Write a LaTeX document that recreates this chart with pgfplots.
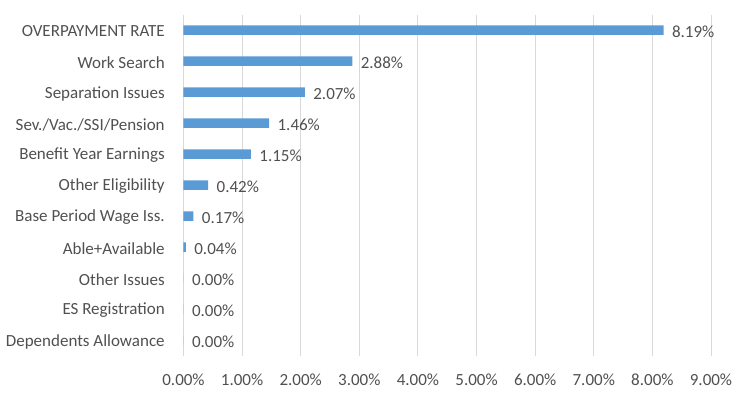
\documentclass[border=0pt]{standalone}
\usepackage{pgfplots}
\pgfplotsset{compat=1.18}
\usepackage{fontspec}
\setmainfont{Carlito}
\definecolor{barblue}{HTML}{5B9BD5}
\definecolor{txt}{HTML}{505050}
\definecolor{gridgray}{HTML}{D9D9D9}
\begin{document}
\begin{tikzpicture}[x=1pt,y=1pt]
\useasboundingbox (0,0) rectangle (750,397);
\begin{axis}[
  at={(183.5pt,41.5pt)}, anchor=south west,
  scale only axis, width=527.5pt, height=341pt,
  xbar, bar width=9.5pt,
  xmin=0, xmax=9, ymin=-0.5, ymax=10.5,
  y dir=reverse,
  ytick={0,...,10},
  yticklabels={OVERPAYMENT RATE,Work Search,Separation Issues,Sev./Vac./SSI/Pension,Benefit Year Earnings,Other Eligibility,Base Period Wage Iss.,Able+Available,Other Issues,ES Registration,Dependents Allowance},
  xtick={0,...,9},
  xticklabel={\pgfmathprintnumber[fixed,fixed zerofill,precision=2]{\tick}\%},
  /pgf/number format/assume math mode=true,
  xmajorgrids=true, ymajorgrids=false,
  x grid style={draw=gridgray, line width=0.9pt},
  axis line style={draw=none}, tick style={draw=none},
  ticklabel style={font=\fontsize{17}{19}\selectfont, text=txt},
  yticklabel style={xshift=-11pt, yshift=-1.5pt},
  xticklabel style={yshift=-15pt},
  point meta=x,
  nodes near coords={\pgfmathprintnumber[fixed,fixed zerofill,precision=2]{\pgfplotspointmeta}\%},
  nodes near coords style={font=\fontsize{17}{19}\selectfont, text=txt, anchor=west, xshift=5pt, yshift=-1.5pt},
  clip=false,
]
\addplot[fill=barblue, draw=none] coordinates {
(8.19,0) (2.88,1) (2.07,2) (1.46,3) (1.15,4) (0.42,5) (0.17,6) (0.04,7) (0,8) (0,9) (0,10)};
\end{axis}
\end{tikzpicture}
\end{document}
